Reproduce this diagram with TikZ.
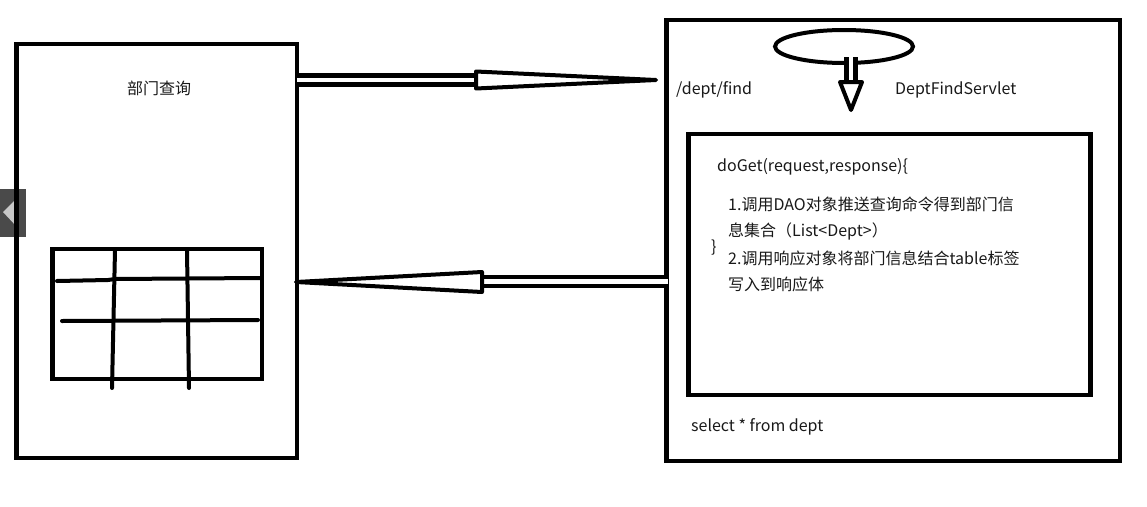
\documentclass[tikz,border=0pt]{standalone}
\usepackage{fontspec}
\setmainfont{Noto Sans CJK SC}
\usetikzlibrary{shapes.geometric}
\definecolor{tabgray}{HTML}{4A4A4A}
\definecolor{tabtri}{HTML}{C8C8C8}
\tikzset{
  frame/.style={draw=black, line width=4.5pt},
  thin4/.style={draw=black, line width=4pt, line cap=round},
  shaft/.style={draw=black, line width=4.5pt, double=white, double distance=4.5pt},
  headtri/.style={draw=black, fill=white, line width=4pt, line join=round},
  lbl/.style={anchor=west, inner sep=0pt, font=\fontsize{16pt}{19pt}\selectfont, text=black!90},
}
\begin{document}
\begin{tikzpicture}[x=1pt, y=-1pt]
\useasboundingbox (0,0) rectangle (1147,506);
\fill[white] (0,0) rectangle (1147,506);
% gray tab
\fill[tabgray] (0,189) rectangle (26,237);
\fill[tabtri] (3,212) -- (17,198) -- (17,227) -- cycle;
% left box
\draw[frame] (16.5,44) rectangle (297,458);
\node[lbl] (title) at (127,88.5) {部门查询};
% table
\draw[frame] (52.5,249) rectangle (262,379);
\draw[thin4] (57,281) -- (108,280) -- (115,279) -- (260,278);
\draw[thin4] (62,321) -- (258,320);
\draw[thin4] (115,250) -- (112,388);
\draw[thin4] (187,250) -- (189,388);
% right box
\draw[frame] (666.5,20) rectangle (1120,461);
\draw[frame] (688.5,134) rectangle (1090.5,395);
% ellipse and down arrow
\node[draw=black, line width=4pt, ellipse, minimum width=138pt, minimum height=33pt, inner sep=0pt] (loop) at (844,46.5) {};
\coordinate (dtop) at (851,57);
\coordinate (dmid) at (851,82);
\coordinate (dtip) at (851,110);
\draw[shaft] (dtop) -- (dmid);
\draw[headtri] (840,82) -- (dtip) -- (862,82) -- cycle;
% top arrow (request)
\coordinate (a1s) at (297,80);
\coordinate (a1m) at (476,80);
\coordinate (a1t) at (656,80);
\draw[shaft] (a1s) -- (a1m);
\draw[headtri] (476,71.5) -- (a1t) -- (476,88.5) -- cycle;
% bottom arrow (response)
\coordinate (a2s) at (668,281.5);
\coordinate (a2m) at (482,281.5);
\coordinate (a2t) at (296,282);
\draw[shaft] (a2s) -- (a2m);
\draw[headtri] (482,272) -- (a2t) -- (482,292) -- cycle;
% texts
\node[lbl] (url) at (676,89.5) {/dept/find};
\node[lbl] (servlet) at (895,89.5) {DeptFindServlet};
\node[lbl] (doget) at (717,166.5) {doGet(request,response)\{};
\node[lbl] (l1) at (728,204) {1.调用DAO对象推送查询命令得到部门信};
\node[lbl] (l2) at (728,231) {息集合（List<Dept>）};
\node[lbl] (brace) at (711,248) {\}};
\node[lbl] (l3) at (728,258) {2.调用响应对象将部门信息结合table标签};
\node[lbl] (l4) at (728,284) {写入到响应体};
\node[lbl] (sql) at (691,426.5) {select * from dept};
\end{tikzpicture}
\end{document}
